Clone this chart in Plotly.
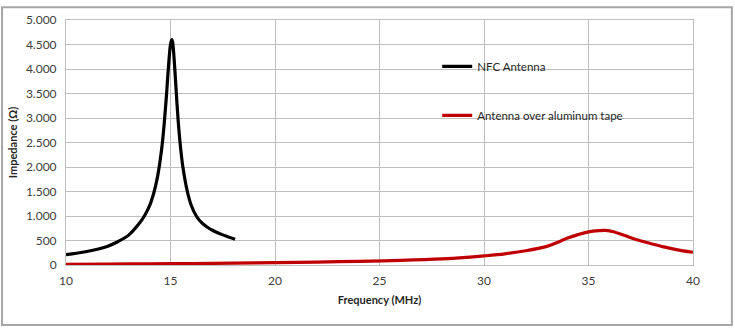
import plotly.graph_objects as go

# NFC antenna impedance sweep (MHz, ohm)
nfc_freq = [10.0, 10.5, 11.0, 11.5, 12.0, 12.5, 13.0, 13.5, 13.75, 14.0, 14.2,
            14.3, 14.4, 14.5, 14.6, 14.7, 14.8, 14.9, 15.0, 15.06, 15.1,
            15.2, 15.3, 15.4, 15.5, 15.6, 15.8, 16.0, 16.25, 16.5, 16.75,
            17.0, 17.5, 18.09]
nfc_imp = [210, 240, 275, 320, 385, 480, 610, 845, 1000, 1210, 1470,
           1640, 1850, 2120, 2450, 2890, 3420, 4030, 4500, 4600, 4550,
           4040, 3360, 2770, 2320, 1980, 1510, 1210, 990, 860, 775,
           710, 615, 525]

# Same antenna placed over aluminum tape
tape_freq = [10, 12, 14, 16, 18, 20, 22, 24, 26, 28, 29, 30, 31, 32, 33, 33.5,
             34, 34.5, 35, 35.5, 35.8, 36.2, 36.7, 37.3, 38, 38.6, 39.2, 40]
tape_imp = [15, 20, 25, 30, 38, 48, 60, 75, 95, 125, 150, 185, 228, 290, 380, 460,
            550, 620, 675, 700, 705, 680, 605, 515, 435, 370, 315, 260]

x_ticks = [10, 15, 20, 25, 30, 35, 40]
y_ticks = [0, 500, 1000, 1500, 2000, 2500, 3000, 3500, 4000, 4500, 5000]

FONT = "Lato"
GRID = "#bfbfbf"
TXT = "#404040"

fig = go.Figure()
fig.add_trace(go.Scatter(
    x=nfc_freq, y=nfc_imp, mode="lines", name="NFC Antenna",
    line=dict(color="#000000", width=3.2, shape="spline", smoothing=1.0),
    legendgroup="a"))
fig.add_trace(go.Scatter(
    x=tape_freq, y=tape_imp, mode="lines", name="Antenna over aluminum tape",
    line=dict(color="#c00000", width=3.2, shape="spline", smoothing=1.0),
    legendgroup="b"))

fig.update_layout(
    width=735, height=330,
    margin=dict(l=66, r=42, t=16, b=65),
    paper_bgcolor="white", plot_bgcolor="white",
    separators=",.",
    font=dict(family=FONT, size=12, color=TXT),
    showlegend=True,
    legend=dict(
        x=0.592, y=0.87, xanchor="left", yanchor="top",
        bgcolor="rgba(0,0,0,0)", borderwidth=0,
        tracegroupgap=30, itemwidth=30,
        font=dict(family=FONT, size=11.5, color="#262626")),
    shapes=[
        # white backing behind the legend
        dict(type="rect", xref="paper", yref="paper",
             x0=0.595, x1=0.898, y0=0.494, y1=0.892,
             fillcolor="white", line=dict(width=0), layer="between"),
        # outer chart frame
        dict(type="rect", xref="paper", yref="paper",
             x0=-0.102, x1=1.062, y0=-0.245, y1=1.052,
             fillcolor="rgba(0,0,0,0)", line=dict(color="#a6a6a6", width=2)),
    ],
)

fig.update_xaxes(
    range=[10, 40], tickvals=x_ticks, ticks="",
    showgrid=True, gridcolor=GRID, gridwidth=1,
    showline=True, linecolor=GRID, mirror=True, zeroline=False,
    tickfont=dict(family=FONT, size=12, color=TXT), ticklabelstandoff=5,
    title=dict(text="<b>Frequency (MHz)</b>", standoff=8,
               font=dict(family=FONT, size=11, color="#262626")))
fig.update_yaxes(
    range=[0, 5000], tickvals=y_ticks, tickformat=",d", ticks="",
    showgrid=True, gridcolor=GRID, gridwidth=1,
    showline=True, linecolor=GRID, mirror=True, zeroline=False,
    tickfont=dict(family=FONT, size=12, color=TXT), ticklabelstandoff=6,
    title=dict(text="<b>Impedance (Ω)</b>", standoff=6,
               font=dict(family=FONT, size=11, color="#262626")))

fig.write_html("out.html")
